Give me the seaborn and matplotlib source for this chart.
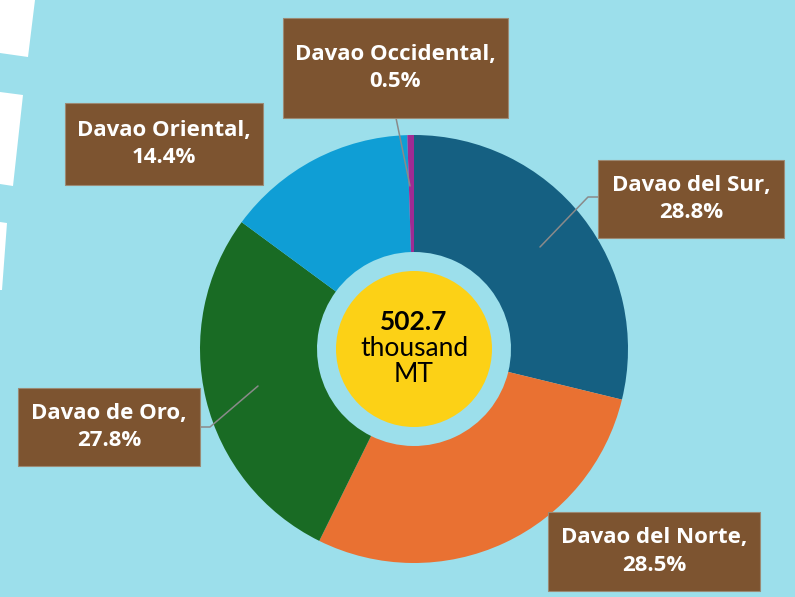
"""Donut chart: share of production by Davao Region province."""

import matplotlib
matplotlib.use("Agg")
import matplotlib.pyplot as plt
from matplotlib.patches import Circle, Polygon, Rectangle
import seaborn as sns

provinces = ["Davao del Sur", "Davao del Norte", "Davao de Oro", "Davao Oriental", "Davao Occidental"]
shares = [28.8, 28.5, 27.8, 14.4, 0.5]
colors = ["#156082", "#E97132", "#196B24", "#0F9ED5", "#A02B93"]
total_value = "502.7"
total_unit = ["thousand", "MT"]

BG = "#9CDFEB"
BOX = "#7D5430"
W, H = 795, 597

# label boxes in pixel coords (left, top, right, bottom) and leader lines
boxes = {
    "Davao del Sur": (598, 160, 784, 238),
    "Davao del Norte": (548, 512, 760, 591),
    "Davao de Oro": (18, 388, 200, 466),
    "Davao Oriental": (65, 103, 263, 185),
    "Davao Occidental": (283, 18, 508, 118),
}
leaders = {
    "Davao del Sur": [(598, 197), (588, 197), (540, 247)],
    "Davao de Oro": [(200, 427), (210, 427), (258, 386)],
    "Davao Occidental": [(396, 118), (410, 186)],
}


def py(y):
    return H - y


def main() -> None:
    sns.set_style("white")
    plt.rcParams["font.family"] = ["Open Sans", "DejaVu Sans"]

    fig = plt.figure(figsize=(W / 100, H / 100), dpi=100, facecolor=BG)
    ax = fig.add_axes([0, 0, 1, 1])
    ax.set_facecolor(BG)

    # decorative white stripes on the left edge
    stripes = [
        [(0, 0), (35, 0), (28, 57), (0, 53)],
        [(0, 92), (23, 95), (13, 186), (0, 184)],
        [(0, 222), (7, 223), (2, 290), (0, 290)],
    ]
    for s in stripes:
        ax.add_patch(Polygon([(x, py(y)) for x, y in s], closed=True, color="white", lw=0))

    cx, cy, r_out, r_in = 414, py(349), 214, 97
    ax.pie(
        shares,
        colors=colors,
        startangle=90,
        counterclock=False,
        center=(cx, cy),
        radius=r_out,
        wedgeprops=dict(width=r_out - r_in, linewidth=0),
        frame=True,
    )
    ax.set_xlim(0, W)
    ax.set_ylim(0, H)
    ax.set_aspect("equal")
    ax.axis("off")

    ax.add_patch(Circle((cx, cy), 78, color="#FCD116", lw=0, zorder=3))
    center_font = ["Lato", "DejaVu Sans"]
    ax.text(cx, py(322), total_value, ha="center", va="center", fontsize=19,
            fontweight="bold", family=center_font, color="black", zorder=4)
    ax.text(cx, py(348), total_unit[0], ha="center", va="center", fontsize=19,
            family=center_font, color="black", zorder=4)
    ax.text(cx, py(374), total_unit[1], ha="center", va="center", fontsize=19,
            family=center_font, color="black", zorder=4)

    for name, pts in leaders.items():
        xs = [p[0] for p in pts]
        ys = [py(p[1]) for p in pts]
        ax.plot(xs, ys, color="#8A8A8A", lw=1.1, zorder=2.5)

    for name, share in zip(provinces, shares):
        l, t, r, b = boxes[name]
        ax.add_patch(Rectangle((l, py(b)), r - l, b - t, facecolor=BOX,
                               edgecolor="#9C8A74", lw=0.8, zorder=5))
        ax.text((l + r) / 2, py((t + b) / 2), f"{name},\n{share}%", ha="center",
                va="center", fontsize=16, fontweight="bold", color="white",
                linespacing=1.4, zorder=6)

    fig.savefig("out.png", dpi=100, facecolor=BG)
    plt.close(fig)


if __name__ == "__main__":
    main()
